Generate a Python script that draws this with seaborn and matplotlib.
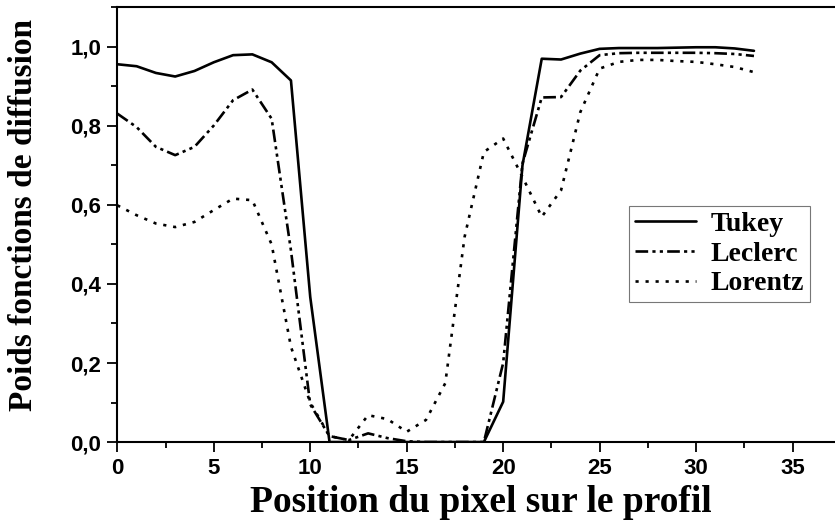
import matplotlib
matplotlib.use("Agg")
import matplotlib.pyplot as plt
import seaborn as sns
import pandas as pd
import numpy as np
from matplotlib.ticker import MultipleLocator, FuncFormatter

# ---- data ----
positions = list(range(34))
tukey = [0.956, 0.951, 0.934, 0.925, 0.939, 0.961, 0.979, 0.981, 0.961, 0.915,
         0.367, 0.000, 0.000, 0.000, 0.000, 0.000, 0.000, 0.000, 0.000, 0.000,
         0.102, 0.700, 0.970, 0.968, 0.983, 0.995, 0.997, 0.997, 0.997, 0.998,
         0.999, 0.999, 0.996, 0.990]
leclerc = [0.831, 0.797, 0.747, 0.726, 0.747, 0.801, 0.865, 0.892, 0.818, 0.485,
           0.095, 0.015, 0.005, 0.022, 0.010, 0.002, 0.000, 0.000, 0.000, 0.000,
           0.200, 0.705, 0.872, 0.873, 0.940, 0.979, 0.984, 0.985, 0.985, 0.985,
           0.985, 0.984, 0.982, 0.977]
lorentz = [0.599, 0.574, 0.553, 0.544, 0.557, 0.587, 0.616, 0.612, 0.500, 0.241,
           0.100, 0.015, 0.005, 0.068, 0.058, 0.026, 0.056, 0.149, 0.519, 0.734,
           0.768, 0.671, 0.570, 0.637, 0.835, 0.945, 0.962, 0.967, 0.967, 0.964,
           0.962, 0.956, 0.949, 0.936]
series_names = ["Tukey", "Leclerc", "Lorentz"]
x_label = "Position du pixel sur le profil"
y_label = "Poids fonctions de diffusion"

df = pd.DataFrame({
    "x": positions * 3,
    "y": tukey + leclerc + lorentz,
    "serie": [series_names[0]] * 34 + [series_names[1]] * 34 + [series_names[2]] * 34,
})

sns.set_style("ticks")
plt.rcParams["font.family"] = ["Liberation Sans", "DejaVu Sans"]
plt.rcParams["axes.linewidth"] = 1.5
plt.rcParams["text.color"] = "black"
plt.rcParams["axes.labelcolor"] = "black"
plt.rcParams["xtick.color"] = "black"
plt.rcParams["ytick.color"] = "black"

fig = plt.figure(figsize=(8.35, 5.25), dpi=100)
ax = fig.add_axes([0.1405, 0.158, 1 - 0.1405, 0.986 - 0.158])

dashes = {
    "Tukey": "",
    "Leclerc": (4.8, 1.6, 1.2, 1.6, 1.2, 1.6),
    "Lorentz": (1.2, 2.6),
}
sns.lineplot(data=df, x="x", y="y", hue="serie", style="serie",
             palette={n: "black" for n in series_names}, dashes=dashes,
             linewidth=1.9, ax=ax, legend=True)

ax.set_xlim(0, 37.2)
ax.set_ylim(0, 1.1)
ax.xaxis.set_major_locator(MultipleLocator(5))
ax.xaxis.set_minor_locator(MultipleLocator(2.5))
ax.yaxis.set_major_locator(MultipleLocator(0.2))
ax.yaxis.set_minor_locator(MultipleLocator(0.1))
ax.yaxis.set_major_formatter(FuncFormatter(lambda v, p: f"{v:.1f}".replace(".", ",")))
ax.xaxis.set_major_formatter(FuncFormatter(lambda v, p: f"{int(round(v))}"))

ax.tick_params(axis="both", which="major", direction="out", length=7.5, width=1.3,
               labelsize=16, pad=4, color="black", labelcolor="black")
ax.tick_params(axis="both", which="minor", direction="out", length=4, width=1.3, color="black")
for lab in ax.get_xticklabels() + ax.get_yticklabels():
    lab.set_fontweight("bold")

for s in ["left", "bottom", "top"]:
    ax.spines[s].set_visible(True)
    ax.spines[s].set_color("black")
    ax.spines[s].set_linewidth(1.5)
ax.spines["right"].set_visible(False)

serif = ["Liberation Serif", "DejaVu Serif"]
ax.set_xlabel(x_label, fontsize=27, fontweight="bold", family=serif, color="black")
ax.set_ylabel(y_label, fontsize=24, fontweight="bold", family=serif, color="black")
ax.xaxis.label.set_verticalalignment("center")
ax.yaxis.label.set_verticalalignment("center")
ax.xaxis.set_label_coords(0.507, -0.140)
ax.yaxis.set_label_coords(-0.131, 0.522)

leg = ax.legend(loc="upper left", bbox_to_anchor=(0.713, 0.543), borderaxespad=0,
                frameon=True, fancybox=False, handlelength=2.2, handletextpad=0.55,
                labelspacing=0.15, borderpad=0.2,
                prop={"family": serif, "weight": "bold", "size": 20})
leg.get_frame().set_edgecolor("#555555")
leg.get_frame().set_linewidth(0.8)
for h in leg.get_lines():
    h.set_linewidth(1.9)
for t in leg.get_texts():
    t.set_color("black")

fig.savefig("out.png", dpi=100, facecolor="white")
